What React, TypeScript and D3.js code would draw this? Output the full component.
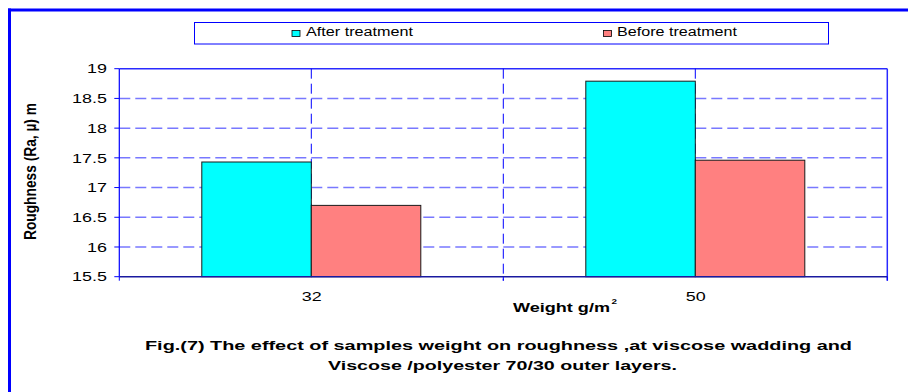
import React from "react";
import * as d3 from "d3";

// Roughness (Ra) by sample weight, before and after treatment
const weights = ["32", "50"];
const seriesNames = ["After treatment", "Before treatment"];
const afterTreatment = [17.43, 18.79];
const beforeTreatment = [16.7, 17.46];
const yTicks = [15.5, 16, 16.5, 17, 17.5, 18, 18.5, 19];

const captionLines = [
  "Fig.(7) The effect of samples weight on roughness ,at viscose wadding and",
  "Viscose /polyester 70/30 outer layers.",
];

const W = 908;
const H = 392;
const plot = { left: 119.3, right: 887.3, top: 68.7, bottom: 276.7 };
const FONT = "Arial, 'Liberation Sans', Helvetica, sans-serif";
const colors = ["#00ffff", "#ff8080"];
// glyphs in this figure are drawn wide (horizontally stretched)
const SX = 1.38;

export default function App() {
  const x0 = d3.scaleBand<string>().domain(weights).range([plot.left, plot.right]).padding(0);
  const groupPad = 82.5;
  const x1 = d3
    .scaleBand<string>()
    .domain(seriesNames)
    .range([groupPad, x0.bandwidth() - groupPad])
    .padding(0);
  const y = d3.scaleLinear().domain([15.5, 19]).range([plot.bottom, plot.top]);

  const values = [afterTreatment, beforeTreatment];

  // vertical grid at category centres and boundaries
  const vGrid: number[] = [];
  weights.forEach((w, i) => {
    const c = (x0(w) ?? 0) + x0.bandwidth() / 2;
    vGrid.push(c);
    if (i < weights.length - 1) vGrid.push((x0(w) ?? 0) + x0.bandwidth());
  });
  const xTickMarks = [plot.left, ...weights.map((w) => (x0(w) ?? 0) + x0.bandwidth())];

  const legendLayout = [
    { mx: 292, tx: 306, len: 107 },
    { mx: 603.5, tx: 617, len: 120 },
  ];
  const captionLayout = [
    { x: 145, len: 707 },
    { x: 328, len: 349 },
  ];

  return (
    <svg
      width={W}
      height={H}
      style={{ position: "absolute", left: 0, top: 0, background: "#fff" }}
      fontFamily={FONT}
    >
      <rect x={0} y={0} width={W} height={H} fill="#fff" />
      {/* frame */}
      <line x1={8} x2={W} y1={10} y2={10} stroke="#0000ff" strokeWidth={3} />
      <line x1={9.5} x2={9.5} y1={8.5} y2={H} stroke="#0000ff" strokeWidth={3} />

      {/* legend */}
      <rect x={194.5} y={22.5} width={634} height={21.5} fill="#fff" stroke="#0000ff" strokeWidth={1} />
      {seriesNames.map((s, i) => {
        const { mx, tx, len } = legendLayout[i];
        return (
          <g key={s}>
            <rect x={mx} y={30.5} width={8} height={6} fill={colors[i]} stroke="#000" strokeWidth={0.8} />
            <text x={tx} y={36} fontSize={12.5} textLength={len} lengthAdjust="spacingAndGlyphs" fill="#000">
              {s}
            </text>
          </g>
        );
      })}

      {/* horizontal gridlines */}
      {yTicks.slice(1).map((t) => (
        <line
          key={t}
          x1={plot.left}
          x2={plot.right}
          y1={y(t)}
          y2={y(t)}
          stroke={t === 19 ? "#2a2aff" : "#7878ff"}
          strokeWidth={1.5}
          strokeDasharray={t === 19 ? "none" : "11,5"}
        />
      ))}
      {/* vertical gridlines */}
      {vGrid.map((gx) => (
        <line
          key={gx}
          x1={gx}
          x2={gx}
          y1={plot.top}
          y2={plot.bottom + (Math.abs(gx - 503.3) < 1 ? 4 : 0)}
          stroke="#0000ff"
          strokeWidth={1}
          strokeDasharray="10,5"
        />
      ))}
      <line x1={plot.right} x2={plot.right} y1={plot.top} y2={plot.bottom + 4} stroke="#2a2aff" strokeWidth={1.5} />

      {/* bars */}
      {weights.map((w, i) => (
        <g key={w} transform={`translate(${x0(w)},0)`}>
          {seriesNames.map((s, j) => (
            <rect
              key={s}
              x={x1(s)}
              y={y(values[j][i])}
              width={x1.bandwidth()}
              height={plot.bottom - y(values[j][i])}
              fill={colors[j]}
              stroke="#1a1a1a"
              strokeWidth={1}
            />
          ))}
        </g>
      ))}

      {/* y axis */}
      <line x1={plot.left} x2={plot.left} y1={plot.top} y2={plot.bottom} stroke="#0000ff" strokeWidth={1.2} />
      {yTicks.map((t) => (
        <g key={t}>
          <line x1={plot.left - 5} x2={plot.left} y1={y(t)} y2={y(t)} stroke="#0000ff" strokeWidth={1} />
          <text
            transform={`translate(107,${y(t)}) scale(${SX},1)`}
            dy="0.36em"
            textAnchor="end"
            fontSize={13}
            fill="#000"
          >
            {t}
          </text>
        </g>
      ))}

      {/* x axis */}
      <line x1={plot.left} x2={plot.right} y1={plot.bottom} y2={plot.bottom} stroke="#1a1aa0" strokeWidth={1.5} />
      {xTickMarks.map((tx) => (
        <line key={tx} x1={tx} x2={tx} y1={plot.bottom} y2={plot.bottom + 4} stroke="#0000ff" strokeWidth={1} />
      ))}
      {weights.map((w) => (
        <text
          key={w}
          transform={`translate(${(x0(w) ?? 0) + x0.bandwidth() / 2 + 0.5},300.5) scale(${SX},1)`}
          textAnchor="middle"
          fontSize={13}
          fill="#000"
        >
          {w}
        </text>
      ))}

      {/* axis titles */}
      <text x={513} y={312} fontSize={12.5} fontWeight="bold" textLength={97} lengthAdjust="spacingAndGlyphs" fill="#000">
        Weight g/m
      </text>
      <text x={611.5} y={304} fontSize={8} fontWeight="bold" textLength={5.5} lengthAdjust="spacingAndGlyphs" fill="#000">
        2
      </text>
      <text
        transform={`translate(36,171.5) scale(${SX},1) rotate(-90)`}
        textAnchor="middle"
        fontSize={12.5}
        fontWeight="bold"
        textLength={137}
        lengthAdjust="spacingAndGlyphs"
        fill="#000"
      >
        Roughness (Ra, µ) m
      </text>

      {/* caption */}
      {captionLines.map((line, i) => (
        <text
          key={i}
          x={captionLayout[i].x}
          y={350 + i * 20}
          fontSize={13}
          fontWeight="bold"
          textLength={captionLayout[i].len}
          lengthAdjust="spacingAndGlyphs"
          fill="#000"
        >
          {line}
        </text>
      ))}
    </svg>
  );
}
